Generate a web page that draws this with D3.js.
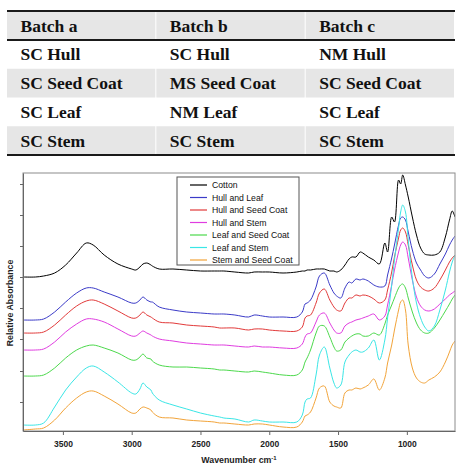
<!DOCTYPE html>
<html>
<head>
<meta charset="utf-8">
<script src="https://cdn.jsdelivr.net/npm/d3@7/dist/d3.min.js"></script>
<style>
  body { margin: 0; background: #fff; }
  svg { display: block; }
</style>
</head>
<body>
<svg id="chart" width="460" height="464"></svg>
<script>
// table
const headers = ["Batch a", "Batch b", "Batch c"];
const tableRows = [
  ["SC Hull", "SC Hull", "NM Hull"],
  ["SC Seed Coat", "MS Seed Coat", "SC Seed Coat"],
  ["SC Leaf", "NM Leaf", "SC Leaf"],
  ["SC Stem", "SC Stem", "SC Stem"]
];

// spectra (offset relative absorbance)
const wavenumbers = [3790, 3700, 3640, 3560, 3480, 3400, 3330, 3280, 3200, 3100,
  3000, 2970, 2940, 2918, 2890, 2860, 2850, 2800, 2700, 2600,
  2500, 2400, 2360, 2330, 2250, 2150, 2110, 2050, 2000, 1900,
  1800, 1760, 1740, 1725, 1700, 1660, 1635, 1600, 1560, 1530,
  1510, 1480, 1450, 1420, 1400, 1370, 1340, 1320, 1280, 1240,
  1200, 1160, 1140, 1110, 1090, 1060, 1045, 1030, 1010, 990,
  960, 930, 900, 870, 840, 800, 760, 720, 690, 670, 650];

const cotton = [1.54, 1.54, 1.55, 1.58, 1.66, 1.78, 1.88, 1.86, 1.76, 1.67,
  1.62, 1.61, 1.64, 1.67, 1.68, 1.66, 1.65, 1.62, 1.62, 1.61,
  1.60, 1.60, 1.60, 1.60, 1.59, 1.58, 1.59, 1.59, 1.59, 1.58,
  1.59, 1.60, 1.60, 1.61, 1.61, 1.62, 1.62, 1.62, 1.60, 1.60,
  1.59, 1.61, 1.66, 1.72, 1.74, 1.74, 1.79, 1.78, 1.74, 1.71,
  1.67, 1.88, 1.79, 2.14, 2.09, 2.51, 2.47, 2.56, 2.46, 2.34,
  2.14, 1.96, 1.83, 1.77, 1.76, 1.76, 1.79, 1.94, 2.11, 2.20, 2.14];
const hullLeaf = [1.11, 1.11, 1.12, 1.19, 1.29, 1.38, 1.43, 1.43, 1.39, 1.34,
  1.28, 1.28, 1.31, 1.34, 1.31, 1.29, 1.29, 1.24, 1.21, 1.19,
  1.18, 1.17, 1.17, 1.17, 1.16, 1.14, 1.16, 1.15, 1.14, 1.14,
  1.14, 1.19, 1.27, 1.28, 1.31, 1.44, 1.55, 1.58, 1.46, 1.38,
  1.35, 1.33, 1.43, 1.49, 1.48, 1.52, 1.51, 1.52, 1.50, 1.46,
  1.44, 1.45, 1.56, 1.73, 1.86, 2.06, 2.13, 2.14, 2.11, 1.99,
  1.81, 1.68, 1.61, 1.55, 1.53, 1.57, 1.67, 1.77, 1.86, 1.91, 1.95];
const hullSeedCoat = [0.98, 0.98, 0.99, 1.06, 1.16, 1.25, 1.30, 1.31, 1.27, 1.20,
  1.13, 1.13, 1.16, 1.19, 1.16, 1.14, 1.13, 1.09, 1.08, 1.06,
  1.05, 1.04, 1.03, 1.03, 1.03, 1.01, 1.02, 1.02, 1.01, 1.00,
  1.00, 1.04, 1.13, 1.15, 1.16, 1.28, 1.38, 1.42, 1.31, 1.24,
  1.21, 1.20, 1.28, 1.33, 1.33, 1.36, 1.35, 1.36, 1.35, 1.32,
  1.28, 1.31, 1.41, 1.59, 1.74, 1.93, 2.01, 2.03, 1.99, 1.86,
  1.66, 1.51, 1.44, 1.41, 1.40, 1.43, 1.51, 1.61, 1.69, 1.73, 1.76];
const hullStem = [0.81, 0.81, 0.82, 0.89, 0.99, 1.07, 1.12, 1.12, 1.09, 1.02,
  0.95, 0.95, 0.98, 1.00, 0.98, 0.96, 0.95, 0.92, 0.90, 0.88,
  0.87, 0.86, 0.86, 0.86, 0.85, 0.84, 0.85, 0.84, 0.84, 0.83,
  0.83, 0.87, 0.94, 0.97, 0.98, 1.09, 1.16, 1.18, 1.08, 1.01,
  0.98, 0.98, 1.05, 1.08, 1.09, 1.11, 1.12, 1.13, 1.15, 1.17,
  1.11, 1.15, 1.26, 1.46, 1.61, 1.79, 1.86, 1.89, 1.86, 1.73,
  1.51, 1.34, 1.25, 1.21, 1.20, 1.22, 1.27, 1.32, 1.36, 1.38, 1.40];
const leafSeedCoat = [0.55, 0.55, 0.56, 0.63, 0.73, 0.81, 0.85, 0.86, 0.83, 0.78,
  0.71, 0.71, 0.74, 0.77, 0.73, 0.72, 0.70, 0.66, 0.64, 0.64,
  0.63, 0.62, 0.61, 0.61, 0.60, 0.59, 0.60, 0.59, 0.58, 0.56,
  0.56, 0.61, 0.69, 0.73, 0.81, 0.98, 1.05, 1.05, 0.94, 0.84,
  0.80, 0.81, 0.89, 0.93, 0.95, 0.97, 0.97, 0.95, 0.95, 0.98,
  0.96, 1.07, 1.16, 1.26, 1.33, 1.43, 1.46, 1.47, 1.43, 1.33,
  1.19, 1.08, 1.01, 0.98, 0.98, 1.03, 1.11, 1.20, 1.27, 1.32, 1.36];
const leafStem = [0.06, 0.06, 0.08, 0.24, 0.41, 0.54, 0.63, 0.65, 0.59, 0.49,
  0.38, 0.37, 0.42, 0.48, 0.44, 0.41, 0.38, 0.31, 0.26, 0.22,
  0.18, 0.15, 0.14, 0.13, 0.12, 0.09, 0.11, 0.10, 0.09, 0.09,
  0.09, 0.16, 0.29, 0.32, 0.33, 0.56, 0.76, 0.84, 0.63, 0.48,
  0.43, 0.46, 0.69, 0.76, 0.79, 0.81, 0.79, 0.79, 0.83, 0.91,
  0.71, 0.91, 1.13, 1.46, 1.71, 2.03, 2.19, 2.26, 2.19, 1.91,
  1.53, 1.28, 1.13, 1.04, 1.00, 1.05, 1.21, 1.41, 1.59, 1.69, 1.76];
const stemSeedCoat = [0.01, 0.02, 0.03, 0.11, 0.23, 0.33, 0.39, 0.40, 0.35, 0.27,
  0.18, 0.18, 0.22, 0.24, 0.23, 0.21, 0.19, 0.14, 0.13, 0.11,
  0.10, 0.09, 0.08, 0.08, 0.07, 0.06, 0.07, 0.07, 0.06, 0.04,
  0.04, 0.09, 0.15, 0.16, 0.19, 0.33, 0.43, 0.45, 0.29, 0.25,
  0.24, 0.23, 0.38, 0.41, 0.41, 0.43, 0.42, 0.43, 0.46, 0.52,
  0.41, 0.53, 0.68, 0.86, 1.01, 1.21, 1.29, 1.31, 1.21, 0.86,
  0.63, 0.53, 0.49, 0.48, 0.51, 0.54, 0.59, 0.69, 0.79, 0.86, 0.90];

const seriesNames = ["Cotton", "Hull and Leaf", "Hull and Seed Coat", "Hull and Stem",
  "Leaf and Seed Coat", "Leaf and Stem", "Stem and Seed Coat"];
const seriesValues = [cotton, hullLeaf, hullSeedCoat, hullStem, leafSeedCoat, leafStem, stemSeedCoat];
const seriesColors = ["#000000", "#3b3bc8", "#e23a3a", "#e03ce0", "#4cd94c", "#3ae6e6", "#f2a43a"];

const xTicks = [3500, 3000, 2500, 2000, 1500, 1000];
const yTicks = [0.29, 0.60, 0.92, 1.23, 1.54, 1.85, 2.16, 2.47];

const svg = d3.select("#chart");

// ---- table ----
const table = { left: 7, right: 455, top: 12, headBottom: 40, bottom: 155 };
const colX = d3.scaleBand().domain(d3.range(3)).range([table.left, table.right]);
const rowY = d3.scaleBand().domain(d3.range(tableRows.length)).range([table.headBottom, table.bottom]);

const tg = svg.append("g").attr("font-family", "'Liberation Serif', 'Times New Roman', serif")
  .attr("font-weight", "bold").attr("font-size", 17.5).attr("fill", "#111");

tg.selectAll("rect.head").data(headers).join("rect")
  .attr("x", (d, i) => colX(i)).attr("y", table.top)
  .attr("width", colX.bandwidth() - 1).attr("height", table.headBottom - table.top)
  .attr("fill", "#e6e6e6");

tableRows.forEach((row, r) => {
  if (r % 2 === 1) {
    tg.selectAll(null).data(row).join("rect")
      .attr("x", (d, i) => colX(i)).attr("y", rowY(r))
      .attr("width", colX.bandwidth() - 1).attr("height", rowY.bandwidth())
      .attr("fill", "#e6e6e6");
  }
  tg.selectAll(null).data(row).join("text")
    .attr("x", (d, i) => colX(i) + 13.5).attr("y", rowY(r) + rowY.bandwidth() / 2 + 6)
    .text(d => d);
});

tg.selectAll("text.head").data(headers).join("text")
  .attr("x", (d, i) => colX(i) + 13.5).attr("y", (table.top + table.headBottom) / 2 + 6)
  .text(d => d);

[table.top - 1, table.headBottom, table.bottom].forEach(y => {
  svg.append("line").attr("x1", table.left).attr("x2", table.right)
    .attr("y1", y).attr("y2", y).attr("stroke", "#1a1a1a").attr("stroke-width", 2);
});

// ---- spectra ----
const plot = { left: 23, right: 455, top: 173, bottom: 431 };
const x = d3.scaleLinear().domain([3790, 650]).range([plot.left, plot.right]);
const y = d3.scaleLinear().domain([0, 2.58]).range([plot.bottom, plot.top]);

const g = svg.append("g");

const line = d3.line()
  .x((d, i) => x(wavenumbers[i]))
  .y(d => y(d))
  .curve(d3.curveCatmullRom.alpha(0.5));

g.append("defs").append("clipPath").attr("id", "clip")
  .append("rect").attr("x", plot.left).attr("y", plot.top)
  .attr("width", plot.right - plot.left).attr("height", plot.bottom - plot.top);

g.append("g").attr("clip-path", "url(#clip)")
  .selectAll("path").data(seriesValues).join("path")
  .attr("d", line)
  .attr("fill", "none")
  .attr("stroke", (d, i) => seriesColors[i])
  .attr("stroke-width", 1);

g.append("rect")
  .attr("x", plot.left).attr("y", plot.top)
  .attr("width", plot.right - plot.left).attr("height", plot.bottom - plot.top)
  .attr("fill", "none").attr("stroke", "#8c8c8c").attr("stroke-width", 1);

const xAxis = g.append("g").attr("transform", `translate(0,${plot.bottom})`)
  .call(d3.axisBottom(x).tickValues(xTicks).tickFormat(d3.format("d"))
    .tickSize(4).tickPadding(6).tickSizeOuter(0));
xAxis.select(".domain").attr("stroke", "#666");
xAxis.selectAll(".tick line").attr("stroke", "#666");
xAxis.selectAll("text").attr("font-family", "'Liberation Sans', Arial, sans-serif")
  .attr("font-size", 8.5).attr("font-weight", "bold").attr("fill", "#222");

const yAxis = g.append("g").attr("transform", `translate(${plot.left},0)`)
  .call(d3.axisLeft(y).tickValues(yTicks).tickSize(3).tickFormat("").tickSizeOuter(0));
yAxis.select(".domain").attr("stroke", "#666");
yAxis.selectAll(".tick line").attr("stroke", "#666");

g.append("text")
  .attr("x", (plot.left + plot.right) / 2).attr("y", 463)
  .attr("text-anchor", "middle")
  .attr("font-family", "'Liberation Sans', Arial, sans-serif")
  .attr("font-size", 8.8).attr("font-weight", "bold").attr("fill", "#222")
  .text("Wavenumber cm")
  .append("tspan").attr("dy", -3).attr("font-size", 6).text("-1");

g.append("text")
  .attr("transform", `translate(13,${(plot.top + plot.bottom) / 2 + 1}) rotate(-90)`)
  .attr("text-anchor", "middle")
  .attr("font-family", "'Liberation Sans', Arial, sans-serif")
  .attr("font-size", 8.8).attr("font-weight", "bold").attr("fill", "#222")
  .text("Relative Absorbance");

// legend
const legend = g.append("g").attr("transform", "translate(177,177)");
legend.append("rect").attr("width", 122).attr("height", 88)
  .attr("fill", "#fff").attr("stroke", "#555").attr("stroke-width", 1);
const items = legend.selectAll("g.item").data(seriesNames).join("g")
  .attr("transform", (d, i) => `translate(0,${8 + i * 12.5})`);
items.append("line").attr("x1", 13).attr("x2", 30)
  .attr("stroke", (d, i) => seriesColors[i]).attr("stroke-width", 1.2);
items.append("text").attr("x", 35).attr("dy", "0.35em")
  .attr("font-family", "'Liberation Sans', Arial, sans-serif")
  .attr("font-size", 8.7).attr("fill", "#111")
  .text(d => d);
</script>
</body>
</html>
